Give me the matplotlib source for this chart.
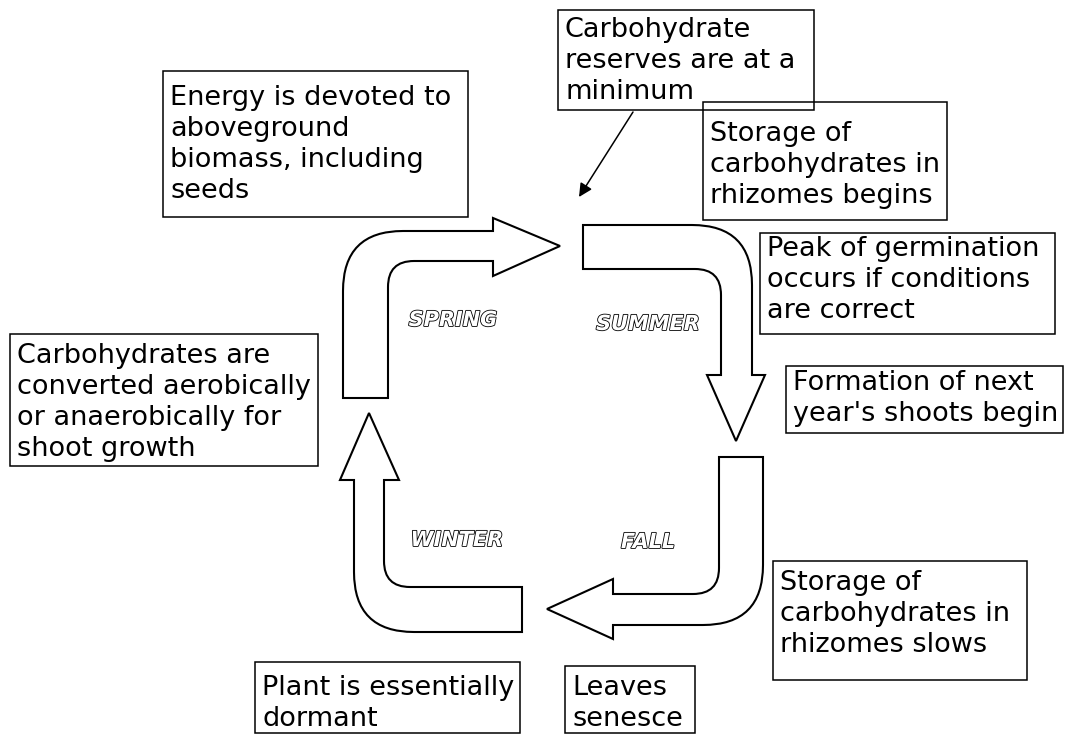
"""Seasonal carbohydrate cycle diagram (rhizomatous grass)."""

import matplotlib.pyplot as plt
import matplotlib.patheffects as pe
from matplotlib.patches import PathPatch, Rectangle
from matplotlib.path import Path

# Season labels placed inside the cycle
seasons = ["SPRING", "SUMMER", "FALL", "WINTER"]

# Text of the note boxes, one list of lines per box
note_energy = ["Energy is devoted to", "aboveground", "biomass, including", "seeds"]
note_minimum = ["Carbohydrate", "reserves are at a", "minimum"]
note_storage_begins = ["Storage of", "carbohydrates in", "rhizomes begins"]
note_germination = ["Peak of germination", "occurs if conditions", "are correct"]
note_shoots = ["Formation of next", "year's shoots begin"]
note_converted = ["Carbohydrates are", "converted aerobically", "or anaerobically for", "shoot growth"]
note_storage_slows = ["Storage of", "carbohydrates in", "rhizomes slows"]
note_dormant = ["Plant is essentially", "dormant"]
note_senesce = ["Leaves", "senesce"]

notes = [note_energy, note_minimum, note_storage_begins, note_germination,
         note_shoots, note_converted, note_storage_slows, note_dormant, note_senesce]

# Layout (pixel coordinates, y downwards): box left, top, right, bottom, first baseline
note_boxes = [
    (163, 71, 468, 217, 105),
    (558, 10, 814, 110, 37),
    (703, 102, 947, 220, 141),
    (760, 233, 1055, 334, 256),
    (786, 366, 1063, 433, 390),
    (10, 334, 318, 466, 363),
    (773, 561, 1027, 680, 590),
    (255, 662, 520, 733, 695),
    (565, 666, 695, 733, 695),
]
line_step = 31
season_pos = [(453, 326), (648, 330), (648, 548), (457, 546)]

fig = plt.figure(figsize=(10.67, 7.36), dpi=100)
ax = fig.add_axes([0, 0, 1, 1])
ax.set_xlim(0, 1067)
ax.set_ylim(736, 0)
ax.axis("off")


def bent_arrow(points):
    """Outline of a bent arrow; corners given as ('c', corner, start, end)."""
    verts, codes = [], []
    for p in points:
        if p[0] == "c":
            _, corner, a, b = p
            codes += [Path.LINETO if verts else Path.MOVETO, Path.CURVE3, Path.CURVE3]
            verts += [a, corner, b]
        else:
            codes.append(Path.LINETO if verts else Path.MOVETO)
            verts.append(p)
    verts.append(verts[0])
    codes.append(Path.CLOSEPOLY)
    return Path(verts, codes)


ro, ri = 60, 26
arrows = [
    # spring: up then right
    [(343, 398), ("c", (343, 231), (343, 231 + ro), (343 + ro, 231)),
     (493, 231), (493, 218), (560, 246), (493, 276), (493, 261),
     ("c", (388, 261), (388 + ri, 261), (388, 261 + ri)), (388, 398)],
    # summer: right then down
    [(583, 225), ("c", (752, 225), (752 - ro, 225), (752, 225 + ro)),
     (752, 375), (765, 375), (736, 441), (707, 375), (721, 375),
     ("c", (721, 269), (721, 269 + ri), (721 - ri, 269)), (583, 269)],
    # fall: down then left
    [(719, 457), (763, 457), ("c", (763, 625), (763, 625 - ro), (763 - ro, 625)),
     (613, 625), (613, 639), (547, 609), (613, 579), (613, 594),
     ("c", (719, 594), (719 - ri, 594), (719, 594 - ri))],
    # winter: left then up
    [(522, 587), (522, 632), ("c", (354, 632), (354 + ro, 632), (354, 632 - ro)),
     (354, 480), (340, 480), (369, 413), (399, 480), (384, 480),
     ("c", (384, 587), (384, 587 - ri), (384 + ri, 587))],
]
for pts in arrows:
    ax.add_patch(PathPatch(bent_arrow(pts), facecolor="white", edgecolor="black",
                           lw=1.5, joinstyle="miter"))

for lines, (x0, y0, x1, y1, base) in zip(notes, note_boxes):
    ax.add_patch(Rectangle((x0, y0), x1 - x0, y1 - y0, fill=False,
                           edgecolor="black", lw=1.1))
    for i, line in enumerate(lines):
        ax.text(x0 + 7, base + i * line_step, line, fontsize=19.5,
                family="DejaVu Sans", ha="left", va="baseline")

# pointer from the "minimum" note to the top of the cycle
ax.annotate("", xy=(579, 197), xytext=(633, 112),
            arrowprops=dict(arrowstyle="-|>", color="black", lw=1.1,
                            mutation_scale=20, shrinkA=0, shrinkB=0))

for name, (x, y) in zip(seasons, season_pos):
    ax.text(x, y, name, fontsize=15, fontweight="bold", style="italic",
            color="white", ha="center", va="baseline",
            path_effects=[pe.Stroke(linewidth=1.2, foreground="black"), pe.Normal()])

fig.savefig("out.png", dpi=100)
